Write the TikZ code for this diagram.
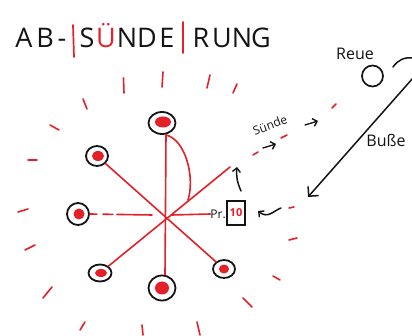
\documentclass[tikz,border=0pt]{standalone}
\usepackage{fontspec}
\setmainfont{Open Sans}
\usetikzlibrary{arrows.meta,shapes.geometric}
\definecolor{penred}{RGB}{228,32,40}
\definecolor{penblack}{RGB}{20,20,20}
\begin{document}
\begin{tikzpicture}[x=1pt,y=-1pt,
  ink/.style={draw=penblack,line width=1.5pt,line cap=round,line join=round},
  rink/.style={draw=penred,line width=1.6pt,line cap=round},
  disc/.style={ellipse,draw=penblack,line width=1.8pt,fill=white,inner sep=0pt},
  tick/.style={draw=penred,line width=1.6pt,line cap=round},
  letter/.style={anchor=base,inner sep=0pt,font=\fontsize{27}{27}\selectfont,text=penblack},
  hand/.style={inner sep=0pt,text=penblack},
  barb/.style={-{Straight Barb[length=4pt,width=8pt,line width=1.4pt]}}
]
\useasboundingbox (0,0) rectangle (412,336);

% ---- title ----
\node[letter] (tA) at (24,48) {A};
\node[letter] (tB) at (45,48) {B};
\node[letter] (tdash) at (62,48) {-};
\node[letter] (tS) at (87,48) {S};
\node[letter,text=penred] (tU) at (106,48) {Ü};
\node[letter] (tN) at (127,48) {N};
\node[letter] (tD) at (147,48) {D};
\node[letter] (tE) at (167,48) {E};
\node[letter] (tR2) at (201,48) {R};
\node[letter] (tU2) at (222,48) {U};
\node[letter] (tN2) at (242,48) {N};
\node[letter] (tG2) at (261,48) {G};
\coordinate (b1a) at (73,25); \coordinate (b1b) at (74,57);
\coordinate (b2a) at (183,22); \coordinate (b2b) at (183,53);
\draw[rink,line width=1.7pt] (b1a) -- (b1b);
\draw[rink,line width=1.7pt] (b2a) -- (b2b);

% ---- discs ----
\node[disc,minimum width=27pt,minimum height=22pt] (top) at (162,123) {};
\node[disc,minimum width=22pt,minimum height=20pt] (ul) at (97,156) {};
\node[disc,minimum width=22pt,minimum height=22pt] (lf) at (78,214) {};
\node[disc,minimum width=23pt,minimum height=17pt] (bl) at (100,273) {};
\node[disc,minimum width=27pt,minimum height=25pt] (bt) at (162,288) {};
\node[disc,minimum width=22pt,minimum height=18pt] (br) at (224,269) {};
\fill[penred] ([shift={(1,-1)}]top.center) ellipse (8 and 5.5);
\fill[penred] ([shift={(1,0)}]ul.center) ellipse (6 and 5);
\fill[penred] ([shift={(1,0)}]lf.center) ellipse (5.5 and 5.5);
\fill[penred] ([shift={(1,0)}]bl.center) ellipse (6 and 4);
\fill[penred] ([shift={(0,0)}]bt.center) ellipse (7 and 6.5);
\fill[penred] ([shift={(0,0)}]br.center) ellipse (5 and 4.5);

% ---- star ----
\coordinate (c) at (172,215);
\coordinate (ur) at (230,167);
\coordinate (ld) at (152,215);
\coordinate (arcend) at (188,200);
\node[hand,font=\fontsize{12}{12}\selectfont,anchor=east] (pr) at (226,214) {Pr.};
\node[draw=penblack,line width=1.5pt,minimum width=18pt,minimum height=24pt,inner sep=0pt,
      text=penred,font=\bfseries\fontsize{11}{11}\selectfont] (box) at (236,213) {10};

\draw[rink] ([xshift=4pt]top.south) -- ([xshift=3pt]bt.north);
\draw[rink] (ul) -- (br);
\draw[rink] (bl) -- (ur);
\draw[rink] (c) -- (pr.west);
\draw[rink,dash pattern=on 7pt off 6pt on 10pt off 4pt on 40pt] (lf.east) -- (ld);
\draw[rink] ([xshift=4pt]top.south) .. controls (186,140) and (195,178) .. (arcend);

% ---- small arrows ----
\coordinate (upA) at (241,191);
\coordinate (upB) at (237,167);
\draw[ink,barb] (upA) .. controls (237,182) and (236,175) .. (upB);
\coordinate (nwA) at (281,208);
\coordinate (nwB) at (258,211);
\draw[ink,barb] (nwA) .. controls (273,211) and (268,219) .. (nwB);
\coordinate (s1a) at (263,148); \coordinate (s1b) at (276,144);
\coordinate (s2a) at (305,125); \coordinate (s2b) at (318,121);
\draw[ink,barb,line width=1.3pt] (s1a) -- (s1b);
\draw[ink,barb,line width=1.3pt] (s2a) -- (s2b);

% ---- labels ----
\node[hand,font=\fontsize{12}{12}\selectfont,rotate=20] (suende) at (270,125) {Sünde};
\node[hand,font=\fontsize{16}{16}\selectfont] (reue) at (355,54) {Reue};
\node[hand,font=\fontsize{16}{16}\selectfont] (busse) at (386,140) {Buße};
\node[draw=penblack,line width=1.7pt,ellipse,minimum width=21pt,minimum height=21pt,inner sep=0pt] (rc) at (372.5,76) {};

\coordinate (lpA) at (393,67); \coordinate (lpB) at (413,58);
\draw[ink] (lpA) .. controls (398,60) and (404,57) .. (lpB);
\coordinate (bzA) at (413,78); \coordinate (bzB) at (308,197);
\draw[ink,-{Straight Barb[length=7pt,width=14pt,line width=1.5pt]}] (bzA) -- (bzB);

% ---- ring of red ticks ----
\foreach \xa/\ya/\xb/\yb in {
  123.5/78/124/93, 163/72/162/87, 210/75/207/88, 237/84/233/93,
  83/99/87/109, 50/125/59/130, 28/160/37/160, 18/212/28/209,
  25/250/35/245, 43/298/52/287, 80/330/85/322, 142/325/143/335,
  197/322/200/335, 243/298/252/307, 273/276/280/280, 289/240/297/238,
  289/208/294/207, 253/155/258/152, 281/138/287/135, 332/108/336/104}
{ \draw[tick] (\xa,\ya) -- (\xb,\yb); }
\end{tikzpicture}
\end{document}
